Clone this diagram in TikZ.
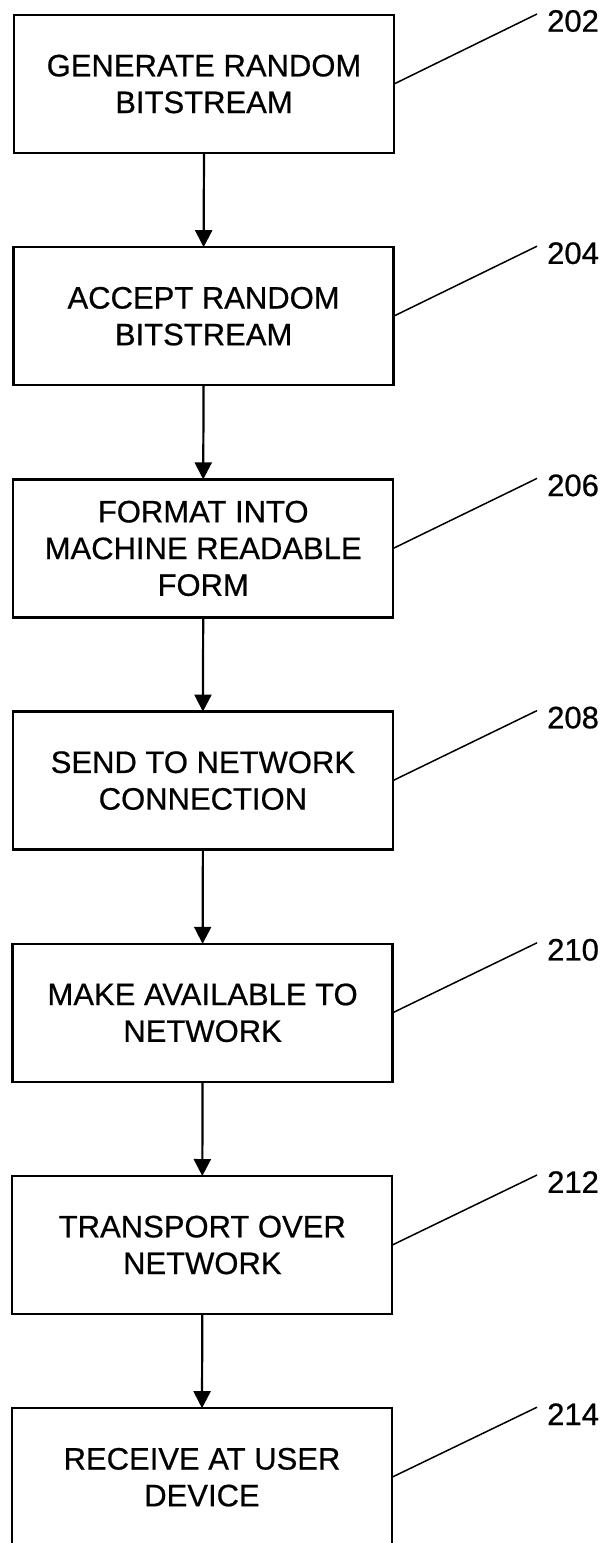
\documentclass[tikz,border=0pt]{standalone}
\usepackage{fontspec}
\setmainfont{Liberation Sans}[FakeBold=0.6]
\usetikzlibrary{arrows.meta}

\begin{document}
\begin{tikzpicture}[x=1pt,y=-1pt,
  stepbox/.style={draw, line width=2.3pt, rectangle, minimum width=380pt,
    minimum height=138pt, inner sep=0pt, outer sep=0pt, align=center,
    font=\fontsize{31}{36.7}\selectfont},
  flow/.style={line width=2.2pt, -{Triangle[width=17pt,length=17pt]}},
  leader/.style={line width=1.5pt},
  refnum/.style={anchor=west, inner sep=0pt, font=\fontsize{31}{36.7}\selectfont}
]
\useasboundingbox (0,0) rectangle (602,1543);

% process steps, 232.2 apart
\node[stepbox] (b1) at (204,84)     {GENERATE RANDOM\\BITSTREAM};
\node[stepbox] (b2) at (203.6,316.2)  {ACCEPT RANDOM\\BITSTREAM};
\node[stepbox] (b3) at (203.2,548.4)  {FORMAT INTO\\MACHINE READABLE\\FORM};
\node[stepbox] (b4) at (202.9,780.6)  {SEND TO NETWORK\\CONNECTION};
\node[stepbox] (b5) at (202.6,1012.8) {MAKE AVAILABLE TO\\NETWORK};
\node[stepbox] (b6) at (202.3,1245)   {TRANSPORT OVER\\NETWORK};
\node[stepbox] (b7) at (202,1477.2) {RECEIVE AT USER\\DEVICE};

% flow arrows
\draw[flow] (b1.south) -- (b2.north);
\draw[flow] (b2.south) -- (b3.north);
\draw[flow] (b3.south) -- (b4.north);
\draw[flow] (b4.south) -- (b5.north);
\draw[flow] (b5.south) -- (b6.north);
\draw[flow] (b6.south) -- (b7.north);

% reference numerals with leader lines
\foreach \i/\n/\t in {1/202/15, 2/204/247.2, 3/206/479.4, 4/208/711.6,
                      5/210/943.8, 6/212/1176, 7/214/1408.2} {
  \coordinate (l\i) at (537,\t-1);
  \node[refnum] (r\i) at (547,\t+6) {\n};
  \draw[leader] (b\i.east) -- (l\i);
}
\end{tikzpicture}
\end{document}
